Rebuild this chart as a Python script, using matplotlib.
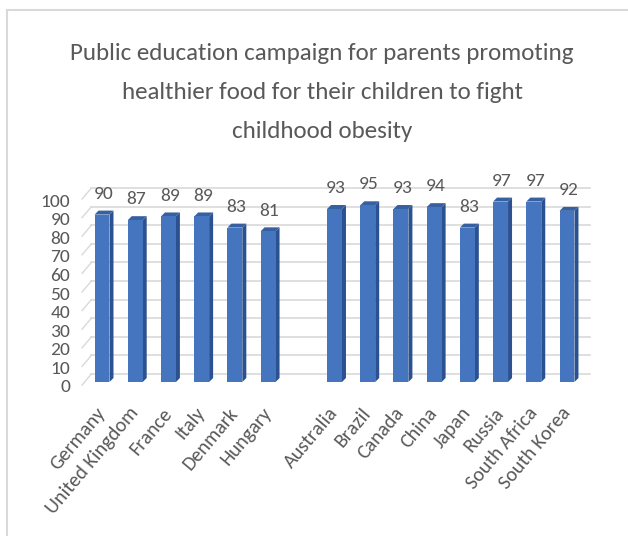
"""Public education campaign chart: pseudo-3D Excel-style columns."""

import matplotlib
matplotlib.use("Agg")
import matplotlib.pyplot as plt
from matplotlib.patches import Polygon
from matplotlib.lines import Line2D
from matplotlib.transforms import ScaledTranslation

TITLE = ("Public education campaign for parents promoting\n"
         "healthier food for their children to fight\n"
         "childhood obesity")

GROUP_A = ["Germany", "United Kingdom", "France", "Italy", "Denmark", "Hungary"]
VALUES_A = [90, 87, 89, 89, 83, 81]
GROUP_B = ["Australia", "Brazil", "Canada", "China", "Japan", "Russia",
           "South Africa", "South Korea"]
VALUES_B = [93, 95, 93, 94, 83, 97, 97, 92]
Y_TICKS = list(range(0, 101, 10))

FRONT = "#4675c0"
SIDE = "#2c5190"
TOP = "#36609f"
GRID = "#d9d9d9"
TEXT = "#595959"

plt.rcParams["font.family"] = ["Carlito", "DejaVu Sans"]


def main():
    labels = GROUP_A + GROUP_B
    values = VALUES_A + VALUES_B
    # one empty slot between the two groups
    xs = list(range(len(GROUP_A))) + [len(GROUP_A) + 1 + i for i in range(len(GROUP_B))]
    n_slots = len(GROUP_A) + 1 + len(GROUP_B)

    fig = plt.figure(figsize=(6.28, 5.36), dpi=100)
    ax = fig.add_axes([85.4 / 628, 154 / 536, 498.2 / 628, 186 / 536])
    ax.set_xlim(-0.5, n_slots - 0.5)
    ax.set_ylim(0, 100)
    for s in ax.spines.values():
        s.set_visible(False)

    # pixel -> data unit conversions for the depth effect
    px_x = n_slots / 498.2
    px_y = 100 / 186

    # back wall gridlines and left-wall diagonals
    gdx, gdy = 6 * px_x, 8 * px_y
    for v in Y_TICKS:
        ax.add_line(Line2D([-0.5 + gdx, n_slots - 0.5 + gdx], [v + gdy, v + gdy],
                           color=GRID, lw=1.2, clip_on=False, zorder=1))
        ax.add_line(Line2D([-0.5 - 0.1, -0.5 + gdx], [v - 3 * px_y, v + gdy],
                           color=GRID, lw=1.0, clip_on=False, zorder=1))

    width = 0.45
    bdx, bdy = 4 * px_x, 4 * px_y
    ax.bar(xs, values, width=width, color=FRONT, zorder=4, clip_on=False)
    for x, v in zip(xs, values):
        r = x + width / 2
        l = x - width / 2
        ax.add_patch(Polygon([(r, 0), (r, v), (r + bdx, v + bdy), (r + bdx, bdy)],
                             closed=True, fc=SIDE, ec="none", zorder=3,
                             clip_on=False))
        ax.add_patch(Polygon([(l, v), (r, v), (r + bdx, v + bdy), (l + bdx, v + bdy)],
                             closed=True, fc=TOP, ec="none", zorder=3,
                             clip_on=False))
        ax.annotate(f"{v}", (x, v), textcoords="offset points", xytext=(1, 15),
                    ha="center", va="center", fontsize=14, color=TEXT)

    ax.set_yticks(Y_TICKS)
    ax.set_yticklabels([str(t) for t in Y_TICKS], fontsize=14, color=TEXT)
    ax.tick_params(axis="y", length=0, pad=11)
    shift = ScaledTranslation(0, -4 / 100, fig.dpi_scale_trans)
    for lab in ax.get_yticklabels():
        lab.set_transform(lab.get_transform() + shift)

    ax.set_xticks(xs)
    ax.set_xticklabels(labels, rotation=50, ha="right", va="center",
                       rotation_mode="anchor", fontsize=14.5, color=TEXT)
    ax.tick_params(axis="x", length=0, pad=20)

    fig.text(0.513, 0.828, TITLE, ha="center", va="center", fontsize=18,
             color=TEXT, linespacing=2.07)

    # chart border (top and left visible in the crop)
    fig.add_artist(Line2D([7 / 628, 1], [526 / 536, 526 / 536],
                          transform=fig.transFigure, color=GRID, lw=1.5))
    fig.add_artist(Line2D([7 / 628, 7 / 628], [0, 526 / 536],
                          transform=fig.transFigure, color=GRID, lw=1.5))

    fig.savefig("out.png", dpi=100)


if __name__ == "__main__":
    main()
